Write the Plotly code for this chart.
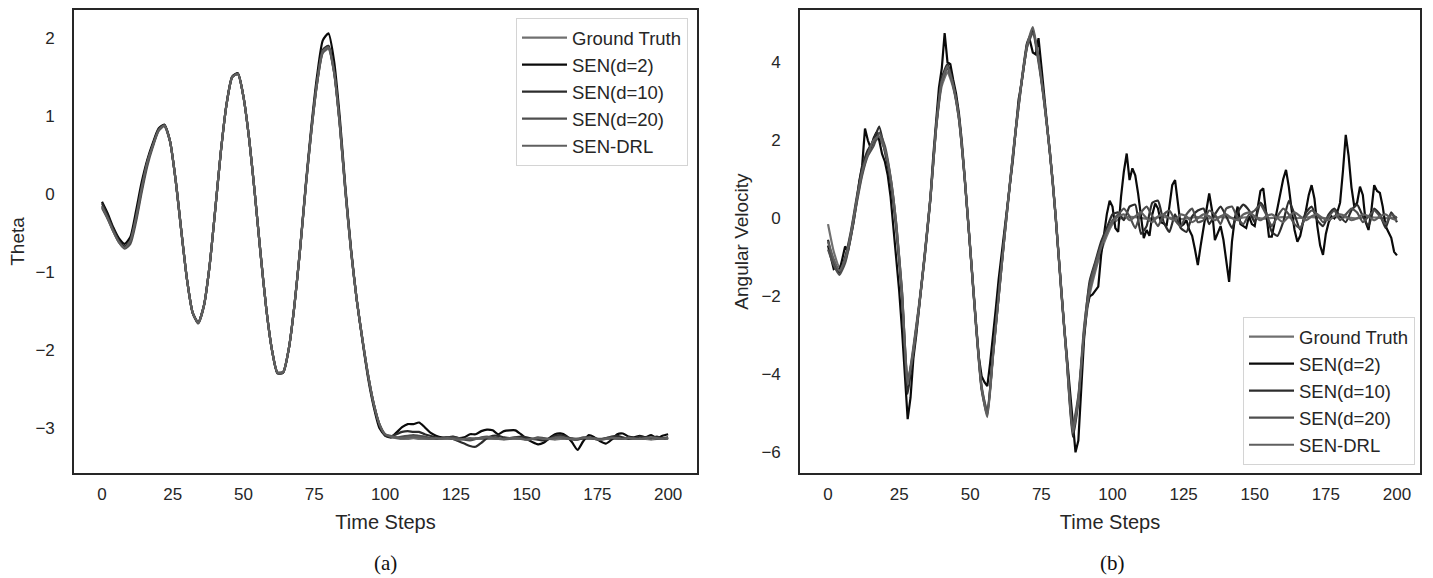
import plotly.graph_objects as go

# ---------------- (a) Theta ----------------
t_theta = list(range(0, 201, 2))

theta_gt = [
    -0.15, -0.30, -0.47, -0.61, -0.68, -0.58, -0.28, 0.10, 0.42, 0.64,
    0.82, 0.88, 0.68, 0.18, -0.47, -1.09, -1.52, -1.65, -1.43, -0.92,
    -0.20, 0.55, 1.15, 1.50, 1.54, 1.24, 0.70, 0.00, -0.76, -1.46,
    -1.99, -2.29, -2.28, -1.98, -1.42, -0.70, 0.10, 0.82, 1.42, 1.81,
    1.86, 1.55, 0.88, 0.02, -0.74, -1.36, -1.86, -2.32, -2.69, -2.95,
    -3.08, -3.12, -3.13, -3.14, -3.14, -3.13, -3.14, -3.14, -3.14, -3.13,
    -3.14, -3.14, -3.14, -3.15, -3.14, -3.14, -3.13, -3.14, -3.14, -3.14,
    -3.14, -3.15, -3.14, -3.14, -3.14, -3.13, -3.14, -3.14, -3.14, -3.14,
    -3.15, -3.14, -3.14, -3.13, -3.14, -3.14, -3.14, -3.14, -3.15, -3.14,
    -3.14, -3.14, -3.13, -3.14, -3.14, -3.14, -3.14, -3.15, -3.14, -3.14,
    -3.14,
]

theta_d2 = [
    -0.10, -0.25, -0.43, -0.57, -0.64, -0.55, -0.22, 0.15, 0.44, 0.66,
    0.84, 0.89, 0.68, 0.18, -0.47, -1.09, -1.52, -1.65, -1.43, -0.92,
    -0.20, 0.55, 1.16, 1.51, 1.55, 1.24, 0.70, 0.00, -0.76, -1.46,
    -1.99, -2.30, -2.29, -1.98, -1.42, -0.69, 0.13, 0.88, 1.52, 1.97,
    2.06, 1.70, 0.98, 0.08, -0.71, -1.36, -1.88, -2.36, -2.73, -3.00,
    -3.09, -3.12, -3.06, -2.99, -2.95, -2.95, -2.93, -2.99, -3.06, -3.10,
    -3.12, -3.12, -3.11, -3.13, -3.12, -3.08, -3.08, -3.04, -3.02, -3.03,
    -3.08, -3.04, -3.03, -3.03, -3.08, -3.14, -3.18, -3.21, -3.19, -3.13,
    -3.08, -3.07, -3.10, -3.18, -3.28, -3.17, -3.09, -3.12, -3.17, -3.20,
    -3.15, -3.08, -3.07, -3.11, -3.12, -3.10, -3.12, -3.09, -3.13, -3.10,
    -3.08,
]

theta_d10 = [
    -0.12, -0.28, -0.45, -0.60, -0.67, -0.60, -0.32, 0.06, 0.40, 0.63,
    0.83, 0.88, 0.68, 0.18, -0.47, -1.09, -1.52, -1.65, -1.43, -0.92,
    -0.20, 0.55, 1.15, 1.50, 1.54, 1.24, 0.70, 0.00, -0.76, -1.46,
    -1.99, -2.29, -2.28, -1.98, -1.42, -0.70, 0.11, 0.84, 1.45, 1.85,
    1.90, 1.58, 0.90, 0.04, -0.73, -1.36, -1.87, -2.33, -2.70, -2.96,
    -3.10, -3.11, -3.08, -3.05, -3.04, -3.05, -3.05, -3.08, -3.10, -3.12,
    -3.13, -3.12, -3.14, -3.17, -3.20, -3.23, -3.24, -3.19, -3.13, -3.10,
    -3.10, -3.12, -3.13, -3.12, -3.11, -3.12, -3.14, -3.15, -3.16, -3.14,
    -3.10, -3.09, -3.11, -3.14, -3.15, -3.13, -3.12, -3.14, -3.15, -3.13,
    -3.11, -3.10, -3.12, -3.14, -3.13, -3.11, -3.12, -3.13, -3.11, -3.14,
    -3.12,
]

theta_d20 = [
    -0.18, -0.32, -0.48, -0.62, -0.70, -0.64, -0.36, 0.02, 0.36, 0.61,
    0.81, 0.87, 0.68, 0.18, -0.47, -1.09, -1.52, -1.66, -1.44, -0.92,
    -0.20, 0.55, 1.15, 1.50, 1.54, 1.24, 0.70, 0.00, -0.76, -1.46,
    -1.99, -2.30, -2.29, -1.98, -1.42, -0.70, 0.10, 0.82, 1.43, 1.82,
    1.88, 1.56, 0.89, 0.03, -0.74, -1.36, -1.86, -2.32, -2.69, -2.95,
    -3.08, -3.10, -3.12, -3.11, -3.10, -3.09, -3.10, -3.11, -3.13, -3.14,
    -3.13, -3.12, -3.12, -3.13, -3.15, -3.16, -3.14, -3.12, -3.11, -3.12,
    -3.13, -3.14, -3.13, -3.12, -3.13, -3.15, -3.14, -3.12, -3.13, -3.14,
    -3.12, -3.11, -3.13, -3.15, -3.14, -3.12, -3.12, -3.13, -3.14, -3.13,
    -3.12, -3.13, -3.14, -3.12, -3.13, -3.14, -3.13, -3.12, -3.14, -3.13,
    -3.12,
]

theta_drl = [
    -0.16, -0.31, -0.48, -0.62, -0.69, -0.60, -0.30, 0.08, 0.41, 0.63,
    0.82, 0.88, 0.68, 0.18, -0.47, -1.09, -1.52, -1.65, -1.43, -0.92,
    -0.20, 0.55, 1.15, 1.50, 1.54, 1.24, 0.70, 0.00, -0.76, -1.46,
    -1.99, -2.29, -2.28, -1.98, -1.42, -0.70, 0.10, 0.83, 1.43, 1.83,
    1.88, 1.56, 0.89, 0.03, -0.74, -1.36, -1.86, -2.32, -2.69, -2.95,
    -3.08, -3.11, -3.12, -3.13, -3.12, -3.11, -3.12, -3.13, -3.14, -3.13,
    -3.14, -3.13, -3.14, -3.15, -3.14, -3.13, -3.14, -3.13, -3.12, -3.13,
    -3.14, -3.14, -3.13, -3.13, -3.14, -3.15, -3.14, -3.13, -3.14, -3.14,
    -3.13, -3.12, -3.13, -3.14, -3.14, -3.13, -3.13, -3.14, -3.15, -3.14,
    -3.13, -3.13, -3.14, -3.13, -3.14, -3.14, -3.13, -3.12, -3.13, -3.14,
    -3.13,
]

# ---------------- (b) Angular Velocity ----------------
t_vel = list(range(0, 201, 2))
t_vel_fine = list(range(0, 201))

vel_gt = [
    -0.15, -0.85, -1.25, -1.10, -0.45, 0.40, 1.15, 1.65, 1.95, 2.05,
    1.75, 1.00, -0.20, -1.90, -4.20, -3.30, -2.20, -0.95, 0.50, 2.30,
    3.40, 3.75, 3.35, 2.55, 1.05, -0.80, -2.70, -4.30, -5.00, -3.50,
    -2.00, -0.50, 0.90, 2.25, 3.45, 4.40, 4.85, 4.05, 3.00, 1.70,
    0.10, -1.85, -3.65, -5.45, -4.60, -3.00, -1.95, -1.35, -0.85, -0.45,
    -0.15, -0.03, 0.02, 0.04, 0.03, 0.01, -0.01, 0.00, 0.02, 0.03,
    0.02, 0.00, -0.02, 0.00, 0.02, 0.03, 0.01, 0.00, 0.02, 0.03,
    0.02, 0.01, 0.00, 0.02, 0.03, 0.02, 0.00, -0.01, 0.01, 0.02,
    0.03, 0.02, 0.00, 0.01, 0.02, 0.03, 0.02, 0.01, 0.00, 0.02,
    0.03, 0.02, 0.01, 0.00, 0.02, 0.03, 0.02, 0.01, 0.00, 0.02,
    0.03,
]

vel_d2 = [
    -0.70, -1.00, -1.30, -1.25, -1.35, -1.05, -0.72, -0.85, -0.50, -0.10,
    0.40, 0.95, 1.35, 2.30, 2.00, 1.80, 2.05, 2.20, 2.00, 1.65,
    1.45, 1.10, 0.55, -0.20, -1.05, -1.85, -2.85, -4.00, -5.15, -4.60,
    -3.60, -3.00, -2.35, -1.55, -0.90, -0.20, 0.55, 1.60, 2.55, 3.35,
    3.85, 4.75, 4.00, 3.95, 3.55, 3.20, 2.70, 2.00, 1.10, 0.10,
    -0.85, -1.75, -2.65, -3.55, -4.05, -4.20, -4.30, -3.70, -2.90, -2.30,
    -1.55, -0.90, -0.30, 0.25, 0.90, 1.50, 2.30, 3.05, 3.45, 3.95,
    4.50, 4.55, 4.25, 4.20, 4.62, 3.90, 3.10, 2.40, 1.65, 0.95,
    0.10, -0.85, -1.80, -2.75, -3.60, -4.45, -5.30, -6.00, -5.70, -4.30,
    -3.10, -2.30, -2.00, -1.95, -1.85, -1.75, -0.95, -0.35, 0.10, 0.45,
    0.30, -0.25, -0.35, 0.55, 1.20, 1.66, 0.98, 1.28, 1.10, 0.64,
    0.00, -0.51, -0.30, -0.45, 0.10, 0.38, 0.25, -0.10, -0.13, -0.20,
    0.30, 0.85, 0.98, 0.40, -0.21, -0.15, -0.05, -0.30, -0.45, -0.80,
    -1.20, -0.70, -0.30, 0.20, 0.64, 0.20, -0.56, -0.40, -0.20, -0.55,
    -1.10, -1.63, -0.60, 0.00, 0.30, -0.15, -0.20, -0.25, 0.05, -0.15,
    -0.20, 0.25, 0.70, 0.77, 0.20, -0.47, -0.47, -0.10, 0.30, 0.60,
    1.00, 1.24, 0.80, 0.20, -0.30, -0.60, -0.45, -0.10, 0.20, 0.60,
    0.85, 0.50, -0.20, -0.70, -0.94, -0.40, -0.10, 0.05, 0.00, 0.15,
    0.40, 1.20, 2.14, 1.60, 0.80, 0.30, 0.40, 0.81, 0.60, -0.10,
    -0.30, 0.20, 0.85, 0.70, 0.65, 0.30, -0.20, -0.35, -0.50, -0.86,
    -0.95,
]

vel_d10 = [
    -0.55, -1.15, -1.40, -1.00, -0.35, 0.50, 1.30, 1.75, 2.00, 2.35,
    1.70, 0.95, -0.30, -2.00, -4.50, -3.40, -2.25, -1.00, 0.50, 2.35,
    3.60, 3.95, 3.45, 2.60, 1.05, -0.80, -2.75, -4.40, -5.05, -3.45,
    -1.95, -0.45, 0.95, 2.30, 3.50, 4.50, 4.80, 4.10, 3.00, 1.70,
    0.05, -1.90, -3.70, -5.60, -4.70, -2.90, -1.60, -1.10, -0.60, -0.25,
    0.10, 0.15, -0.05, 0.30, 0.35, -0.40, -0.20, 0.40, 0.45, -0.10,
    -0.35, 0.10, -0.25, -0.35, 0.05, 0.20, 0.25, -0.15, 0.10, 0.30,
    0.05, -0.25, 0.15, 0.35, 0.20, -0.10, 0.40, 0.15, -0.35, -0.45,
    -0.10, 0.45, 0.10, -0.30, 0.15, 0.30, -0.05, -0.20, 0.10, 0.25,
    0.05, -0.10, 0.20, 0.35, 0.05, -0.20, 0.25, 0.10, -0.25, 0.15,
    -0.10,
]

vel_d20 = [
    -0.80, -1.20, -1.45, -1.15, -0.50, 0.35, 1.10, 1.60, 1.85, 2.20,
    1.85, 1.05, -0.15, -1.85, -4.15, -3.45, -2.30, -0.95, 0.50, 2.30,
    3.50, 3.85, 3.40, 2.55, 1.05, -0.80, -2.70, -4.35, -4.95, -3.50,
    -2.00, -0.50, 0.90, 2.25, 3.45, 4.40, 4.75, 4.00, 2.95, 1.65,
    0.05, -1.85, -3.65, -5.35, -4.55, -2.80, -1.70, -1.15, -0.70, -0.35,
    -0.05, 0.10, 0.25, 0.05, -0.25, 0.15, 0.30, 0.05, -0.20, 0.10,
    0.20, -0.05, -0.20, 0.10, 0.25, -0.10, -0.05, 0.20, 0.10, -0.15,
    0.25, 0.30, 0.00, -0.15, 0.10, 0.20, 0.35, 0.10, -0.20, 0.05,
    0.25, 0.10, -0.15, -0.25, 0.05, 0.20, 0.10, -0.10, 0.05, 0.20,
    -0.05, 0.10, 0.25, 0.15, -0.10, 0.05, 0.20, 0.05, -0.15, 0.10,
    0.00,
]

vel_drl = [
    -0.60, -1.05, -1.35, -1.05, -0.40, 0.45, 1.20, 1.65, 2.00, 2.10,
    1.75, 1.05, -0.15, -1.90, -4.25, -3.35, -2.25, -0.95, 0.55, 2.35,
    3.50, 3.90, 3.40, 2.60, 1.10, -0.75, -2.70, -4.35, -5.10, -3.55,
    -2.00, -0.50, 0.95, 2.30, 3.50, 4.45, 4.90, 4.10, 3.00, 1.70,
    0.10, -1.85, -3.70, -5.50, -4.65, -2.95, -1.85, -1.25, -0.75, -0.35,
    -0.10, 0.05, 0.10, -0.05, 0.05, 0.15, 0.00, -0.10, 0.05, 0.10,
    0.00, -0.05, 0.10, 0.05, -0.10, 0.00, 0.10, 0.05, -0.05, 0.05,
    0.10, 0.00, -0.05, 0.10, 0.15, 0.05, -0.05, 0.05, 0.10, 0.00,
    -0.10, 0.05, 0.15, 0.05, -0.05, 0.05, 0.10, 0.00, -0.05, 0.05,
    0.10, 0.05, -0.05, 0.00, 0.10, 0.05, -0.05, 0.05, 0.10, 0.00,
    -0.05,
]

series_names = ["Ground Truth", "SEN(d=2)", "SEN(d=10)", "SEN(d=20)", "SEN-DRL"]
series_colors = ["#707070", "#0a0a0a", "#2c2c2c", "#4e4e4e", "#5f5f5f"]

FONT = "Liberation Sans, Arial, sans-serif"
SERIF = "Liberation Serif, Times New Roman, serif"
LINE_W = 2.2

fig = go.Figure()

theta_series = [theta_gt, theta_d2, theta_d10, theta_d20, theta_drl]
for name, color, ys in zip(series_names, series_colors, theta_series):
    fig.add_trace(go.Scatter(
        x=t_theta, y=ys, mode="lines", name=name,
        line=dict(color=color, width=LINE_W, shape="spline", smoothing=0.6),
        xaxis="x", yaxis="y", legend="legend",
    ))

vel_series = [
    (t_vel, vel_gt, "spline"),
    (t_vel_fine, vel_d2, "linear"),
    (t_vel, vel_d10, "spline"),
    (t_vel, vel_d20, "spline"),
    (t_vel, vel_drl, "spline"),
]
for name, color, (xs, ys, shp) in zip(series_names, series_colors, vel_series):
    line = dict(color=color, width=LINE_W, shape=shp)
    if shp == "spline":
        line["smoothing"] = 0.5
    fig.add_trace(go.Scatter(
        x=xs, y=ys, mode="lines", name=name, line=line,
        xaxis="x2", yaxis="y2", legend="legend2",
    ))

W, H = 1433, 578
y_dom = [1 - 473 / H, 1 - 10 / H]

axis_common = dict(
    showgrid=False, zeroline=False, showline=True, mirror=True,
    linecolor="#262626", linewidth=1.6, ticks="",
    tickfont=dict(family=FONT, size=17, color="#262626"),
)
xtitle_font = dict(family=FONT, size=20, color="#262626")
ytitle_font = dict(family=FONT, size=19, color="#262626")
legend_font = dict(family=FONT, size=18.5, color="#262626")

x_ticks = [0, 25, 50, 75, 100, 125, 150, 175, 200]

fig.update_layout(
    width=W, height=H,
    margin=dict(l=0, r=0, t=0, b=0),
    paper_bgcolor="white", plot_bgcolor="white",
    font=dict(family=FONT, color="#262626"),
    xaxis=dict(
        domain=[74 / W, 697 / W], range=[-9.9, 210.2], anchor="y",
        tickvals=x_ticks, ticklabelstandoff=5,
        title=dict(text="Time Steps", font=xtitle_font, standoff=12),
        **axis_common,
    ),
    yaxis=dict(
        domain=y_dom, range=[-3.577, 2.36], anchor="x",
        tickvals=[-3, -2, -1, 0, 1, 2], ticktext=["\u22123", "\u22122", "\u22121", "0", "1", "2"],
        ticklabelstandoff=14,
        title=dict(text="Theta", font=ytitle_font, standoff=6),
        **axis_common,
    ),
    xaxis2=dict(
        domain=[800 / W, 1420 / W], range=[-9.85, 208.1], anchor="y2",
        tickvals=x_ticks, ticklabelstandoff=5,
        title=dict(text="Time Steps", font=xtitle_font, standoff=12),
        **axis_common,
    ),
    yaxis2=dict(
        domain=y_dom, range=[-6.53, 5.34], anchor="x2",
        tickvals=[-6, -4, -2, 0, 2, 4], ticktext=["\u22126", "\u22124", "\u22122", "0", "2", "4"],
        ticklabelstandoff=14,
        title=dict(text="Angular Velocity", font=ytitle_font, standoff=8),
        **axis_common,
    ),
    legend=dict(
        x=688 / W, y=1 - 18 / H, xanchor="right", yanchor="top",
        bgcolor="rgba(255,255,255,0.9)", bordercolor="#d4d4d4", borderwidth=1,
        font=legend_font, tracegroupgap=0, itemwidth=45,
    ),
    legend2=dict(
        x=1415 / W, y=1 - 465 / H, xanchor="right", yanchor="bottom",
        bgcolor="rgba(255,255,255,0.9)", bordercolor="#d4d4d4", borderwidth=1,
        font=legend_font, tracegroupgap=0, itemwidth=45,
    ),
    annotations=[
        dict(text="(a)", x=385 / W, y=1 - 563 / H, xref="paper", yref="paper",
             xanchor="center", yanchor="middle", showarrow=False,
             font=dict(family=SERIF, size=21, color="#111")),
        dict(text="(b)", x=1112 / W, y=1 - 563 / H, xref="paper", yref="paper",
             xanchor="center", yanchor="middle", showarrow=False,
             font=dict(family=SERIF, size=21, color="#111")),
    ],
)

fig.write_html("out.html")
